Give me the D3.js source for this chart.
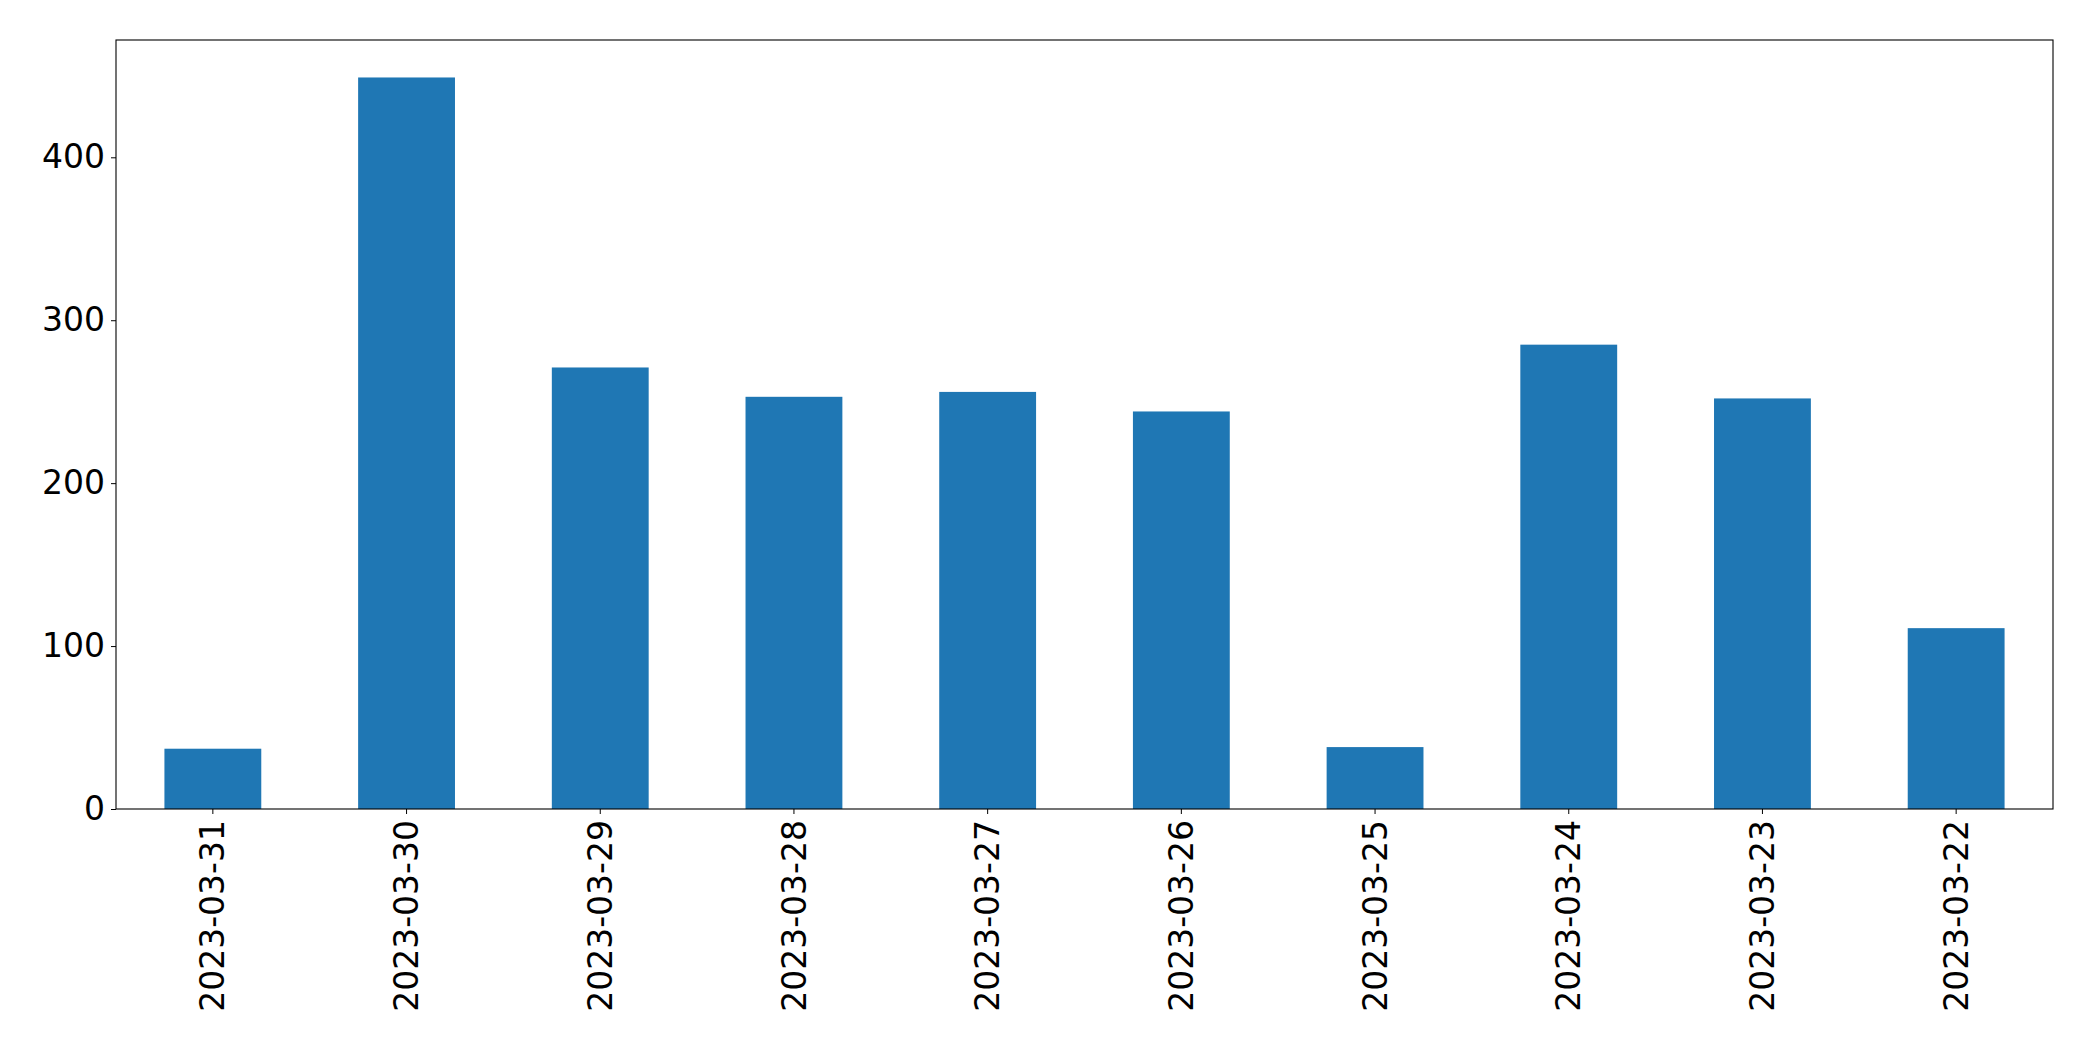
<!DOCTYPE html>
<html>
<head>
<meta charset="utf-8">
<script src="https://cdn.jsdelivr.net/npm/d3@7"></script>
<style>
  body { margin: 0; background: #fff; }
  text { font-family: "DejaVu Sans", sans-serif; }
</style>
</head>
<body>
<div id="chart"></div>
<script>
var dates = ["2023-03-31", "2023-03-30", "2023-03-29", "2023-03-28", "2023-03-27",
             "2023-03-26", "2023-03-25", "2023-03-24", "2023-03-23", "2023-03-22"];
var counts = [37, 449, 271, 253, 256, 244, 38, 285, 252, 111];
var yTicks = [0, 100, 200, 300, 400];

var width = 2093, height = 1061;
var margin = {left: 116, right: 40, top: 40, bottom: 252};
var w = width - margin.left - margin.right;
var h = height - margin.top - margin.bottom;

var svg = d3.select("#chart").append("svg")
    .attr("width", width)
    .attr("height", height);

var g = svg.append("g")
    .attr("transform", "translate(" + margin.left + "," + margin.top + ")");

var x = d3.scaleBand()
    .domain(dates)
    .range([0, w])
    .paddingInner(0.5)
    .paddingOuter(0.25);

var y = d3.scaleLinear()
    .domain([0, 472])
    .range([h, 0]);

// bars
g.selectAll("rect.bar")
    .data(counts)
    .enter().append("rect")
    .attr("class", "bar")
    .attr("x", function(d, i) { return x(dates[i]); })
    .attr("y", function(d) { return y(d); })
    .attr("width", x.bandwidth())
    .attr("height", function(d) { return h - y(d); })
    .style("fill", "#1f77b4");

// frame
g.append("rect")
    .attr("width", w)
    .attr("height", h)
    .style("fill", "none")
    .style("stroke", "#000")
    .style("stroke-width", "1.1px");

// y axis
var yAxis = g.append("g")
    .call(d3.axisLeft(y).tickValues(yTicks).tickSize(5).tickPadding(6));
yAxis.select(".domain").remove();
yAxis.selectAll("text").style("font-size", "33px").style("fill", "#000");

// x axis
var xAxis = g.append("g")
    .attr("transform", "translate(0," + h + ")")
    .call(d3.axisBottom(x).tickSize(5).tickPadding(6));
xAxis.select(".domain").remove();
xAxis.selectAll("text")
    .style("font-size", "33px")
    .style("fill", "#000")
    .attr("text-anchor", "end")
    .attr("dy", "0.35em")
    .attr("transform", "translate(0,11) rotate(-90)")
    .attr("x", 0)
    .attr("y", 0);
</script>
</body>
</html>
